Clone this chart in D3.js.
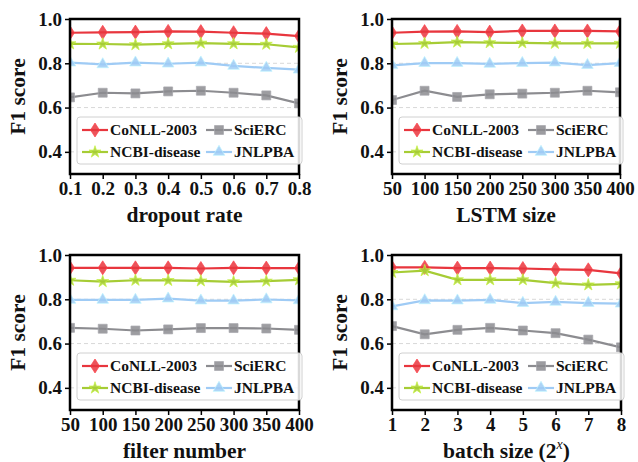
<!DOCTYPE html>
<html>
<head>
<meta charset="utf-8">
<script src="https://cdn.jsdelivr.net/npm/d3@7"></script>
<style>
  body { margin: 0; background: #fff; }
</style>
</head>
<body>
<div id="chart"></div>
<script>
// F1 score sensitivity: four small panels, one per hyper-parameter

const seriesNames = ['CoNLL-2003', 'NCBI-disease', 'SciERC', 'JNLPBA'];
const seriesColors = ['#e8363e', '#a6cc35', '#8c8c90', '#9fcbf5'];
const seriesMarkers = ['diamond', 'star', 'square', 'triangle'];

const yTicks = [0.4, 0.6, 0.8, 1.0];

// dropout rate
const dropoutX = [0.1, 0.2, 0.3, 0.4, 0.5, 0.6, 0.7, 0.8];
const dropoutConll = [0.938, 0.940, 0.941, 0.944, 0.943, 0.938, 0.934, 0.923];
const dropoutNcbi = [0.888, 0.887, 0.884, 0.888, 0.891, 0.888, 0.886, 0.872];
const dropoutScierc = [0.646, 0.667, 0.664, 0.673, 0.676, 0.667, 0.655, 0.619];
const dropoutJnlpba = [0.803, 0.795, 0.803, 0.798, 0.803, 0.788, 0.779, 0.771];

// LSTM size
const lstmX = [50, 100, 150, 200, 250, 300, 350, 400];
const lstmConll = [0.938, 0.943, 0.944, 0.941, 0.946, 0.946, 0.946, 0.944];
const lstmNcbi = [0.887, 0.890, 0.896, 0.893, 0.892, 0.890, 0.890, 0.890];
const lstmScierc = [0.634, 0.676, 0.648, 0.660, 0.663, 0.667, 0.676, 0.669];
const lstmJnlpba = [0.791, 0.801, 0.801, 0.797, 0.801, 0.803, 0.792, 0.801];

// filter number
const filterX = [50, 100, 150, 200, 250, 300, 350, 400];
const filterConll = [0.942, 0.942, 0.942, 0.942, 0.939, 0.942, 0.941, 0.941];
const filterNcbi = [0.886, 0.880, 0.886, 0.885, 0.883, 0.879, 0.882, 0.888];
const filterScierc = [0.671, 0.667, 0.659, 0.664, 0.670, 0.670, 0.668, 0.662];
const filterJnlpba = [0.797, 0.797, 0.797, 0.803, 0.794, 0.794, 0.799, 0.795];

// batch size (2^x)
const batchX = [1, 2, 3, 4, 5, 6, 7, 8];
const batchConll = [0.944, 0.944, 0.941, 0.941, 0.939, 0.935, 0.933, 0.917];
const batchNcbi = [0.921, 0.929, 0.888, 0.888, 0.888, 0.873, 0.865, 0.870];
const batchScierc = [0.679, 0.642, 0.662, 0.671, 0.659, 0.647, 0.618, 0.583];
const batchJnlpba = [0.768, 0.795, 0.794, 0.797, 0.783, 0.788, 0.783, 0.780];

const width = 638;
const height = 462;
const serif = '"Liberation Serif", "Times New Roman", Times, serif';

const panels = [
  { x: dropoutX, series: [dropoutConll, dropoutNcbi, dropoutScierc, dropoutJnlpba],
    title: 'dropout rate', fmt: d3.format('.1f'), box: [70, 299, 19, 174] },
  { x: lstmX, series: [lstmConll, lstmNcbi, lstmScierc, lstmJnlpba],
    title: 'LSTM size', fmt: d3.format('d'), box: [392, 620, 19, 174] },
  { x: filterX, series: [filterConll, filterNcbi, filterScierc, filterJnlpba],
    title: 'filter number', fmt: d3.format('d'), box: [70, 299, 255, 410] },
  { x: batchX, series: [batchConll, batchNcbi, batchScierc, batchJnlpba],
    title: 'batch size', fmt: d3.format('d'), box: [392, 621, 255, 410], power: true }
];

const svg = d3.select('#chart').append('svg')
  .attr('width', width)
  .attr('height', height)
  .style('font-family', serif);

// marker shapes
function markerPath(type) {
  if (type === 'diamond') return 'M0,-7L4.5,0L0,7L-4.5,0Z';
  if (type === 'square') return d3.symbol(d3.symbolSquare, 80)();
  if (type === 'star') return d3.symbol(d3.symbolStar, 45)();
  return d3.symbol(d3.symbolTriangle, 58)();
}

function drawMarker(g, type, color, cx, cy) {
  g.append('path')
    .attr('d', markerPath(type))
    .attr('transform', `translate(${cx},${cy})`)
    .attr('fill', color)
    .attr('fill-opacity', 0.85)
    .attr('stroke', d3.color(color).brighter(0.5))
    .attr('stroke-opacity', 0.7)
    .attr('stroke-width', 1);
}

function styleText(sel, size) {
  sel.style('font-family', serif)
    .style('font-weight', 'bold')
    .style('font-size', size)
    .attr('fill', '#111');
}

panels.forEach((p, pi) => {
  const [left, right, top, bottom] = p.box;
  const x = d3.scaleLinear().domain(d3.extent(p.x)).range([left, right]);
  const y = d3.scaleLinear().domain([0.3, 1.0]).range([bottom, top]);
  const g = svg.append('g');

  const clipId = 'clip' + pi;
  svg.append('clipPath').attr('id', clipId)
    .append('rect')
    .attr('x', left).attr('y', top)
    .attr('width', right - left).attr('height', bottom - top);

  // grid
  g.append('g')
    .selectAll('line')
    .data(yTicks.filter(t => t < 1))
    .enter().append('line')
    .attr('x1', left).attr('x2', right)
    .attr('y1', d => y(d)).attr('y2', d => y(d))
    .attr('stroke', '#d8d8d8')
    .attr('stroke-width', 1)
    .attr('stroke-dasharray', '4,3');

  // lines and markers
  const plot = g.append('g').attr('clip-path', `url(#${clipId})`);
  const line = d3.line().x(d => x(d[0])).y(d => y(d[1]));
  p.series.forEach((vals, si) => {
    const pts = p.x.map((xv, i) => [xv, vals[i]]);
    plot.append('path')
      .attr('d', line(pts))
      .attr('fill', 'none')
      .attr('stroke', seriesColors[si])
      .attr('stroke-width', 2.2);
    pts.forEach(pt => drawMarker(plot, seriesMarkers[si], seriesColors[si], x(pt[0]), y(pt[1])));
  });

  // axes
  const xAxis = d3.axisBottom(x).tickValues(p.x).tickFormat(p.fmt).tickSize(5).tickPadding(3);
  const yAxis = d3.axisLeft(y).tickValues(yTicks).tickFormat(d3.format('.1f')).tickSize(5).tickPadding(3);

  const gx = g.append('g').attr('transform', `translate(0,${bottom})`).call(xAxis);
  const gy = g.append('g').attr('transform', `translate(${left},0)`).call(yAxis);
  [gx, gy].forEach(a => {
    a.attr('font-family', null);
    a.select('.domain').remove();
    a.selectAll('.tick line').attr('stroke', '#000').attr('stroke-width', 1.5);
    styleText(a.selectAll('.tick text'), '19px');
  });

  // frame
  g.append('rect')
    .attr('x', left).attr('y', top)
    .attr('width', right - left).attr('height', bottom - top)
    .attr('fill', 'none')
    .attr('stroke', '#000')
    .attr('stroke-width', 2.5);

  // legend
  const lg = g.append('g');
  const lx = left + 7;
  lg.append('rect')
    .attr('x', lx).attr('y', bottom - 57)
    .attr('width', right + 3 - lx).attr('height', 47)
    .attr('rx', 3)
    .attr('fill', '#fff').attr('fill-opacity', 0.85)
    .attr('stroke', '#d0d0d0').attr('stroke-width', 1);

  seriesNames.forEach((name, si) => {
    const col = Math.floor(si / 2);
    const row = si % 2;
    const x0 = lx + (col === 0 ? 5 : 129);
    const cy = bottom - 44 + row * 22;
    lg.append('line')
      .attr('x1', x0).attr('x2', x0 + 26)
      .attr('y1', cy).attr('y2', cy)
      .attr('stroke', seriesColors[si]).attr('stroke-width', 2.2);
    drawMarker(lg, seriesMarkers[si], seriesColors[si], x0 + 13, cy);
    styleText(lg.append('text')
      .attr('x', x0 + 28).attr('y', cy)
      .attr('dy', '0.35em')
      .text(name), '15.5px');
  });

  // axis titles
  const xt = g.append('text')
    .attr('x', (left + right) / 2)
    .attr('y', bottom + 48)
    .attr('text-anchor', 'middle')
    .text(p.title);
  styleText(xt, '21.5px');
  if (p.power) {
    xt.append('tspan').text(' (2');
    xt.append('tspan').attr('dy', -9).style('font-size', '14px').style('font-style', 'italic')
      .style('font-weight', 'normal').text('x');
    xt.append('tspan').attr('dy', 9).text(')');
  }

  styleText(g.append('text')
    .attr('transform', `translate(${left - 45},${(top + bottom) / 2}) rotate(-90)`)
    .attr('text-anchor', 'middle')
    .text('F1 score'), '21.5px');
});
</script>
</body>
</html>
